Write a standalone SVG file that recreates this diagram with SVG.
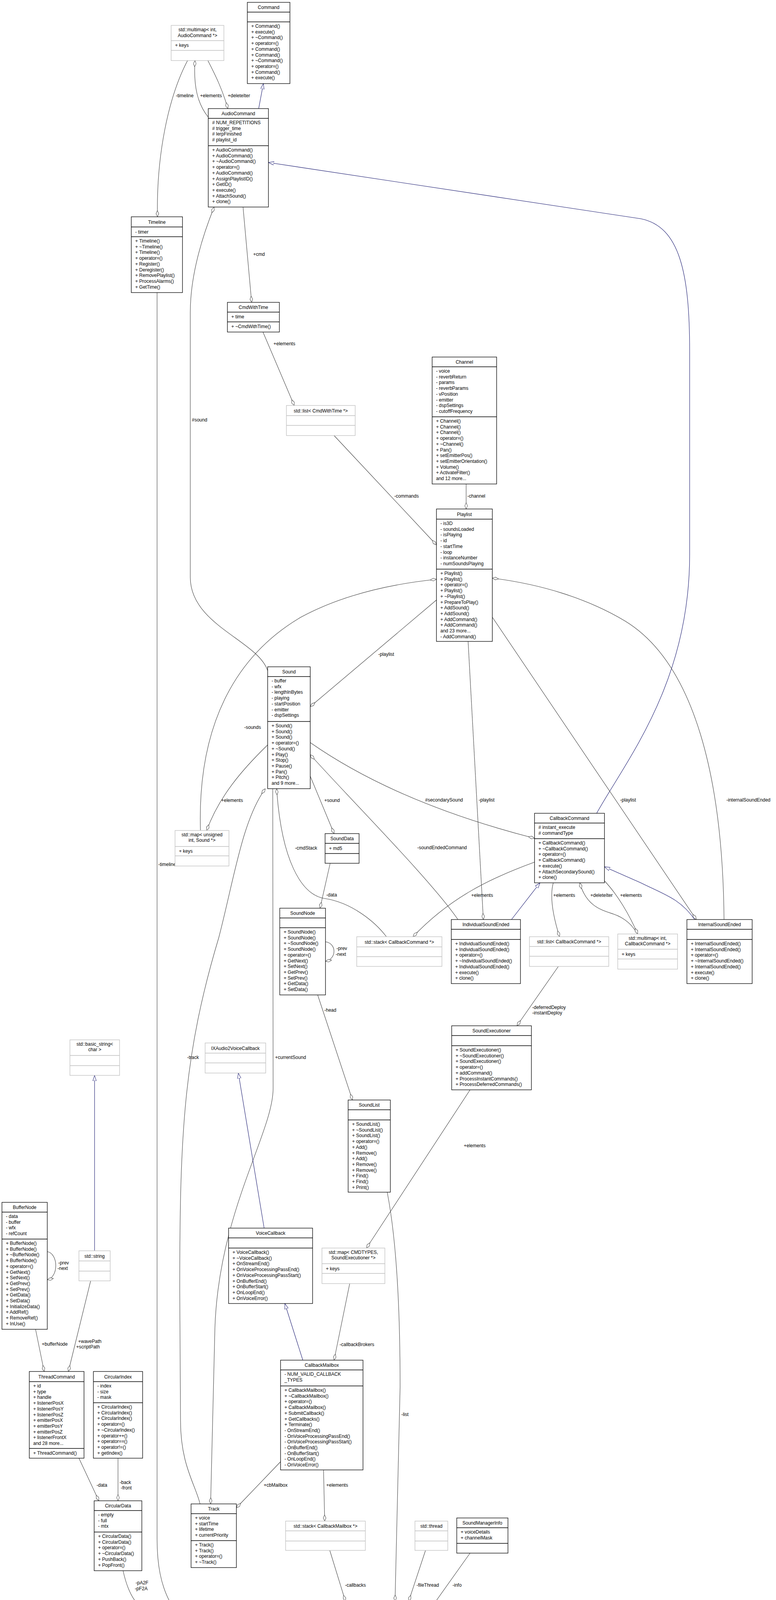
<svg xmlns="http://www.w3.org/2000/svg" width="1986" height="4563" viewBox="0 0 1986 4563">
<style>
text{font-family:"Liberation Sans",Arial,sans-serif;font-size:12px;fill:#000}
.t{text-anchor:middle}
.b{fill:#fff;stroke:#000;stroke-width:1.3}
.g{fill:#fff;stroke:#bfbfbf;stroke-width:1.3}
.m{fill:#bfbfbf;stroke:#000;stroke-width:1.3}
.sb{stroke:#000;stroke-width:1.3}
.sg{stroke:#bfbfbf;stroke-width:1.3}
.e{fill:none;stroke:#404040;stroke-width:1.1;marker-start:url(#dia)}
.i{fill:none;stroke:#191970;stroke-width:1.1;marker-end:url(#tri)}
</style>
<defs>
<marker id="dia" viewBox="0 0 16 8" refX="16" refY="4" markerWidth="16" markerHeight="8" markerUnits="userSpaceOnUse" orient="auto-start-reverse"><path d="M0,4 L8,0.5 L16,4 L8,7.5 Z" fill="#fff" stroke="#404040" stroke-width="1"/></marker>
<marker id="tri" viewBox="0 0 14 10" refX="14" refY="5" markerWidth="14" markerHeight="10" markerUnits="userSpaceOnUse" orient="auto"><path d="M0,0.5 L14,5 L0,9.5 Z" fill="#fff" stroke="#191970" stroke-width="1"/></marker>
</defs>
<rect width="1986" height="4563" fill="#fff"/>
<g id="connectors">
<path class="e" d="M403,555 C400,400 430,250 480,155"/>
<path class="e" d="M499,155 C495,220 505,265 533,300"/>
<path class="e" d="M583,278 C570,230 550,190 532,155"/>
<path class="i" d="M662,278 L674,214"/>
<path class="e" d="M644,774 L622,530"/>
<path class="e" d="M753,1038 L673,850"/>
<path class="e" d="M1117,1395 L855,1115"/>
<path class="e" d="M1193,1303 L1193,1239"/>
<path class="e" d="M548,530 C520,600 487,700 487,800 L487,1478 C487,1600 660,1640 685,1717"/>
<path class="i" d="M1527,2082 C1600,1950 1765,1750 1765,1420 L1765,900 C1765,700 1740,580 1640,560 L687,416"/>
<path class="e" d="M1117,1483 C1050,1490 900,1510 770,1580 C600,1680 505,1860 513,2126"/>
<path class="e" d="M794,1809 L1117,1536"/>
<path class="e" d="M1260,1480 C1380,1495 1500,1530 1600,1590 C1780,1700 1850,2000 1853,2354"/>
<path class="e" d="M1237,2354 L1198,1642"/>
<path class="e" d="M1782,2354 L1260,1580"/>
<path class="e" d="M1368,2146 C1150,2090 950,2010 794,1901"/>
<path class="e" d="M794,1932 C900,2050 1100,2250 1172,2354"/>
<path class="e" d="M855,2134 L794,1987"/>
<path class="e" d="M529,2126 C560,2040 620,1970 685,1907"/>
<path class="e" d="M708,2019 C720,2200 770,2290 830,2300 C900,2310 960,2360 989,2398"/>
<path class="e" d="M679,2019 C620,2100 599,2250 560,2400 C470,2700 460,2900 460,3300 L462,3637 C462,3750 500,3800 512,3850"/>
<path class="e" d="M539,3850 L550,3400 C560,3100 699,2900 699,2786 L698,2019"/>
<path class="e" d="M819,2325 L845,2210"/>
<path class="e" d="M1057,2398 C1150,2300 1250,2250 1368,2207"/>
<path class="e" d="M833,2461 C862,2455 862,2415 833,2411"/>
<path class="e" d="M902,2816 L813,2547"/>
<path class="i" d="M1309,2354 L1382,2260"/>
<path class="e" d="M1432,2398 C1420,2360 1405,2300 1416,2260"/>
<path class="e" d="M1484,2260 C1500,2320 1540,2330 1570,2340 C1600,2350 1620,2370 1631,2391"/>
<path class="e" d="M1632,2391 C1610,2340 1580,2290 1547,2255"/>
<path class="i" d="M1778,2354 C1740,2300 1700,2290 1640,2260 L1547,2219"/>
<path class="e" d="M1323,2626 L1429,2474"/>
<path class="e" d="M938,3195 L1203,2790"/>
<path class="e" d="M855,3482 L895,3286"/>
<path class="i" d="M676,3144 L610,2747"/>
<path class="i" d="M775,3482 L729,3337"/>
<path class="e" d="M1011,4099 L1024,3550 C1024,3300 1010,3150 991,3052"/>
<path class="i" d="M242,3202 L242,2753"/>
<path class="e" d="M121,3276 C150,3270 150,3210 121,3204"/>
<path class="e" d="M113,3511 L91,3403"/>
<path class="e" d="M175,3511 L232,3279"/>
<path class="e" d="M253,3842 L202,3733"/>
<path class="e" d="M302,3842 L302,3733"/>
<path class="e" d="M871,4311 C750,4290 550,4250 400,4150 C350,4110 330,4090 315,4021"/>
<path class="e" d="M871,4303 C700,4260 500,4200 440,4110 C410,4060 402,4000 402,3940 L402,749"/>
<path class="e" d="M605,3860 L718,3742"/>
<path class="e" d="M831,3894 L828,3763"/>
<path class="e" d="M884,4099 L844,3969"/>
<path class="e" d="M1046,4099 L1089,3969"/>
<path class="e" d="M1053,4187 L1203,3976"/>
<path class="e" d="M1053,4368 C1082,4360 1082,4290 1053,4282"/>
</g>
<g id="labels">
<text x="450" y="249">-timeline</text><text x="512" y="249">+elements</text><text x="583" y="249">+deleteIter</text>
<text x="648" y="655">+cmd</text><text x="700" y="884">+elements</text><text x="1009" y="1274">-commands</text>
<text x="1196" y="1274">-channel</text><text x="491" y="1079">#sound</text><text x="968" y="1679">-playlist</text>
<text x="625" y="1866">-sounds</text><text x="566" y="2053">+elements</text><text x="830" y="2053">+sound</text>
<text x="1088" y="2052">#secondarySound</text><text x="1225" y="2052">-playlist</text><text x="1587" y="2052">-playlist</text>
<text x="1859" y="2052">-internalSoundEnded</text><text x="755" y="2175">-cmdStack</text><text x="1068" y="2174">-soundEndedCommand</text>
<text x="1206" y="2296">+elements</text><text x="1416" y="2296">+elements</text><text x="1511" y="2296">+deleteIter</text><text x="1587" y="2296">+elements</text>
<text x="835" y="2295">-data</text><text x="861" y="2432">-prev</text><text x="859" y="2447">-next</text><text x="830" y="2590">-head</text>
<text x="479" y="2711">-track</text><text x="704" y="2711">+currentSound</text>
<text x="1362" y="2583">-deferredDeploy</text><text x="1362" y="2597">-instantDeploy</text>
<text x="1187" y="2937">+elements</text><text x="869" y="3446">-callbackBrokers</text><text x="1027" y="3625">-list</text>
<text x="405" y="2217">-timeline</text>
<text x="149" y="3237">-prev</text><text x="147" y="3251">-next</text><text x="107" y="3445">+bufferNode</text>
<text x="200" y="3438">+wavePath</text><text x="195" y="3452">+scriptPath</text><text x="247" y="3806">-data</text>
<text x="306" y="3799">-back</text><text x="309" y="3813">-front</text><text x="347" y="4056">-pA2F</text><text x="345" y="4071">-pF2A</text>
<text x="675" y="3806">+cbMailbox</text><text x="835" y="3806">+elements</text><text x="883" y="4062">-callbacks</text>
<text x="1066" y="4062">-fileThread</text><text x="1158" y="4062">-info</text><text x="1081" y="4330">-instance</text>
</g>
<g id="Command"><rect class="b" x="633" y="6" width="109" height="208"/><path class="sb" d="M633,31H742M633,56H742"/><text class="t" x="687.5" y="23">Command</text>
<text x="643" y="71"><tspan x="643">+ Command()</tspan><tspan x="643" dy="14.7">+ execute()</tspan><tspan x="643" dy="14.7">+ ~Command()</tspan><tspan x="643" dy="14.7">+ operator=()</tspan><tspan x="643" dy="14.7">+ Command()</tspan><tspan x="643" dy="14.7">+ Command()</tspan><tspan x="643" dy="14.7">+ ~Command()</tspan><tspan x="643" dy="14.7">+ operator=()</tspan><tspan x="643" dy="14.7">+ Command()</tspan><tspan x="643" dy="14.7">+ execute()</tspan></text></g>
<g id="MultimapAudioCommand"><rect class="g" x="438" y="65" width="135" height="90"/><path class="sg" d="M438,104H573M438,129H573"/><text class="t" x="505.5" y="80">std::multimap&lt; int,</text><text class="t" x="505.5" y="95">AudioCommand *&gt;</text><text x="448" y="120">+ keys</text></g>
<g id="AudioCommand"><rect class="b" x="533" y="278" width="154" height="252"/><path class="sb" d="M533,303H687M533,373H687"/><text class="t" x="610" y="295">AudioCommand</text>
<text x="543" y="318"><tspan x="543"># NUM_REPETITIONS</tspan><tspan x="543" dy="14.7"># trigger_time</tspan><tspan x="543" dy="14.7"># lerpFinished</tspan><tspan x="543" dy="14.7"># playlist_id</tspan></text>
<text x="543" y="388"><tspan x="543">+ AudioCommand()</tspan><tspan x="543" dy="14.7">+ AudioCommand()</tspan><tspan x="543" dy="14.7">+ ~AudioCommand()</tspan><tspan x="543" dy="14.7">+ operator=()</tspan><tspan x="543" dy="14.7">+ AudioCommand()</tspan><tspan x="543" dy="14.7">+ AssignPlaylistID()</tspan><tspan x="543" dy="14.7">+ GetID()</tspan><tspan x="543" dy="14.7">+ execute()</tspan><tspan x="543" dy="14.7">+ AttachSound()</tspan><tspan x="543" dy="14.7">+ clone()</tspan></text></g>
<g id="Timeline"><rect class="b" x="336" y="555" width="131" height="194"/><path class="sb" d="M336,581H467M336,606H467"/><text class="t" x="401.5" y="573">Timeline</text><text x="346" y="598">- timer</text>
<text x="346" y="621"><tspan x="346">+ Timeline()</tspan><tspan x="346" dy="14.7">+ ~Timeline()</tspan><tspan x="346" dy="14.7">+ Timeline()</tspan><tspan x="346" dy="14.7">+ operator=()</tspan><tspan x="346" dy="14.7">+ Register()</tspan><tspan x="346" dy="14.7">+ Deregister()</tspan><tspan x="346" dy="14.7">+ RemovePlaylist()</tspan><tspan x="346" dy="14.7">+ ProcessAlarms()</tspan><tspan x="346" dy="14.7">+ GetTime()</tspan></text></g>
<g id="CmdWithTime"><rect class="b" x="582" y="774" width="133" height="76"/><path class="sb" d="M582,799H715M582,824H715"/><text class="t" x="648.5" y="791">CmdWithTime</text><text x="592" y="815">+ time</text><text x="592" y="840">+ ~CmdWithTime()</text></g>
<g id="ListCmdWithTime"><rect class="g" x="733" y="1038" width="176" height="77"/><path class="sg" d="M733,1064H909M733,1089H909"/><text class="t" x="821" y="1056">std::list&lt; CmdWithTime *&gt;</text></g>
<g id="Channel"><rect class="b" x="1106" y="914" width="165" height="325"/><path class="sb" d="M1106,939H1271M1106,1067H1271"/><text class="t" x="1188.5" y="931">Channel</text>
<text x="1116" y="954"><tspan x="1116">- voice</tspan><tspan x="1116" dy="14.7">- reverbReturn</tspan><tspan x="1116" dy="14.7">- params</tspan><tspan x="1116" dy="14.7">- reverbParams</tspan><tspan x="1116" dy="14.7">- vPosition</tspan><tspan x="1116" dy="14.7">- emitter</tspan><tspan x="1116" dy="14.7">- dspSettings</tspan><tspan x="1116" dy="14.7">- cutoffFrequency</tspan></text>
<text x="1116" y="1082"><tspan x="1116">+ Channel()</tspan><tspan x="1116" dy="14.7">+ Channel()</tspan><tspan x="1116" dy="14.7">+ Channel()</tspan><tspan x="1116" dy="14.7">+ operator=()</tspan><tspan x="1116" dy="14.7">+ ~Channel()</tspan><tspan x="1116" dy="14.7">+ Pan()</tspan><tspan x="1116" dy="14.7">+ setEmitterPos()</tspan><tspan x="1116" dy="14.7">+ setEmitterOrientation()</tspan><tspan x="1116" dy="14.7">+ Volume()</tspan><tspan x="1116" dy="14.7">+ ActivateFilter()</tspan><tspan x="1116" dy="14.7">and 12 more...</tspan></text></g>
<g id="Playlist"><rect class="b" x="1117" y="1303" width="143" height="339"/><path class="sb" d="M1117,1329H1260M1117,1457H1260"/><text class="t" x="1188.5" y="1321">Playlist</text>
<text x="1127" y="1344"><tspan x="1127">- is3D</tspan><tspan x="1127" dy="14.7">- soundsLoaded</tspan><tspan x="1127" dy="14.7">- isPlaying</tspan><tspan x="1127" dy="14.7">- id</tspan><tspan x="1127" dy="14.7">- startTime</tspan><tspan x="1127" dy="14.7">- loop</tspan><tspan x="1127" dy="14.7">- instanceNumber</tspan><tspan x="1127" dy="14.7">- numSoundsPlaying</tspan></text>
<text x="1127" y="1472"><tspan x="1127">+ Playlist()</tspan><tspan x="1127" dy="14.7">+ Playlist()</tspan><tspan x="1127" dy="14.7">+ operator=()</tspan><tspan x="1127" dy="14.7">+ Playlist()</tspan><tspan x="1127" dy="14.7">+ ~Playlist()</tspan><tspan x="1127" dy="14.7">+ PrepareToPlay()</tspan><tspan x="1127" dy="14.7">+ AddSound()</tspan><tspan x="1127" dy="14.7">+ AddSound()</tspan><tspan x="1127" dy="14.7">+ AddCommand()</tspan><tspan x="1127" dy="14.7">+ AddCommand()</tspan><tspan x="1127" dy="14.7">and 23 more...</tspan><tspan x="1127" dy="14.7">- AddCommand()</tspan></text></g>
<g id="Sound"><rect class="b" x="685" y="1707" width="109" height="312"/><path class="sb" d="M685,1732H794M685,1847H794"/><text class="t" x="739.5" y="1724">Sound</text>
<text x="695" y="1747"><tspan x="695">- buffer</tspan><tspan x="695" dy="14.7">- wfx</tspan><tspan x="695" dy="14.7">- lengthInBytes</tspan><tspan x="695" dy="14.7">- playing</tspan><tspan x="695" dy="14.7">- startPosition</tspan><tspan x="695" dy="14.7">- emitter</tspan><tspan x="695" dy="14.7">- dspSettings</tspan></text>
<text x="695" y="1862"><tspan x="695">+ Sound()</tspan><tspan x="695" dy="14.7">+ Sound()</tspan><tspan x="695" dy="14.7">+ Sound()</tspan><tspan x="695" dy="14.7">+ operator=()</tspan><tspan x="695" dy="14.7">+ ~Sound()</tspan><tspan x="695" dy="14.7">+ Play()</tspan><tspan x="695" dy="14.7">+ Stop()</tspan><tspan x="695" dy="14.7">+ Pause()</tspan><tspan x="695" dy="14.7">+ Pan()</tspan><tspan x="695" dy="14.7">+ Pitch()</tspan><tspan x="695" dy="14.7">and 9 more...</tspan></text></g>
<g id="MapSound"><rect class="g" x="448" y="2126" width="138" height="91"/><path class="sg" d="M448,2167H586M448,2191H586"/><text class="t" x="517" y="2141">std::map&lt; unsigned</text><text class="t" x="517" y="2155">int, Sound *&gt;</text><text x="458" y="2183">+ keys</text></g>
<g id="SoundData"><rect class="b" x="832" y="2134" width="87" height="76"/><path class="sb" d="M832,2159H919M832,2185H919"/><text class="t" x="875.5" y="2151">SoundData</text><text x="842" y="2176">+ md5</text></g>
<g id="CallbackCommand"><rect class="b" x="1368" y="2082" width="179" height="178"/><path class="sb" d="M1368,2107H1547M1368,2147H1547"/><text class="t" x="1457.5" y="2099">CallbackCommand</text>
<text x="1378" y="2122"><tspan x="1378"># instant_execute</tspan><tspan x="1378" dy="14.7"># commandType</tspan></text>
<text x="1378" y="2162"><tspan x="1378">+ CallbackCommand()</tspan><tspan x="1378" dy="14.7">+ ~CallbackCommand()</tspan><tspan x="1378" dy="14.7">+ operator=()</tspan><tspan x="1378" dy="14.7">+ CallbackCommand()</tspan><tspan x="1378" dy="14.7">+ execute()</tspan><tspan x="1378" dy="14.7">+ AttachSecondarySound()</tspan><tspan x="1378" dy="14.7">+ clone()</tspan></text></g>
<g id="IndividualSoundEnded"><rect class="b" x="1155" y="2354" width="177" height="164"/><path class="sb" d="M1155,2379H1332M1155,2405H1332"/><text class="t" x="1243.5" y="2371">IndividualSoundEnded</text>
<text x="1165" y="2420"><tspan x="1165">+ IndividualSoundEnded()</tspan><tspan x="1165" dy="14.7">+ IndividualSoundEnded()</tspan><tspan x="1165" dy="14.7">+ operator=()</tspan><tspan x="1165" dy="14.7">+ ~IndividualSoundEnded()</tspan><tspan x="1165" dy="14.7">+ IndividualSoundEnded()</tspan><tspan x="1165" dy="14.7">+ execute()</tspan><tspan x="1165" dy="14.7">+ clone()</tspan></text></g>
<g id="ListCallbackCommand"><rect class="g" x="1355" y="2398" width="203" height="76"/><path class="sg" d="M1355,2423H1558M1355,2448H1558"/><text class="t" x="1456.5" y="2415">std::list&lt; CallbackCommand *&gt;</text></g>
<g id="MultimapCallbackCommand"><rect class="g" x="1581" y="2391" width="153" height="90"/><path class="sg" d="M1581,2430H1734M1581,2455H1734"/><text class="t" x="1657.5" y="2406">std::multimap&lt; int,</text><text class="t" x="1657.5" y="2420">CallbackCommand *&gt;</text><text x="1591" y="2447">+ keys</text></g>
<g id="InternalSoundEnded"><rect class="b" x="1758" y="2354" width="167" height="164"/><path class="sb" d="M1758,2379H1925M1758,2405H1925"/><text class="t" x="1841.5" y="2371">InternalSoundEnded</text>
<text x="1768" y="2420"><tspan x="1768">+ InternalSoundEnded()</tspan><tspan x="1768" dy="14.7">+ InternalSoundEnded()</tspan><tspan x="1768" dy="14.7">+ operator=()</tspan><tspan x="1768" dy="14.7">+ ~InternalSoundEnded()</tspan><tspan x="1768" dy="14.7">+ InternalSoundEnded()</tspan><tspan x="1768" dy="14.7">+ execute()</tspan><tspan x="1768" dy="14.7">+ clone()</tspan></text></g>
<g id="StackCallbackCommand"><rect class="g" x="913" y="2398" width="218" height="76"/><path class="sg" d="M913,2424H1131M913,2449H1131"/><text class="t" x="1022" y="2416">std::stack&lt; CallbackCommand *&gt;</text></g>
<g id="SoundNode"><rect class="b" x="716" y="2325" width="117" height="222"/><path class="sb" d="M716,2350H833M716,2375H833"/><text class="t" x="774.5" y="2342">SoundNode</text>
<text x="726" y="2390"><tspan x="726">+ SoundNode()</tspan><tspan x="726" dy="14.7">+ SoundNode()</tspan><tspan x="726" dy="14.7">+ ~SoundNode()</tspan><tspan x="726" dy="14.7">+ SoundNode()</tspan><tspan x="726" dy="14.7">+ operator=()</tspan><tspan x="726" dy="14.7">+ GetNext()</tspan><tspan x="726" dy="14.7">+ SetNext()</tspan><tspan x="726" dy="14.7">+ GetPrev()</tspan><tspan x="726" dy="14.7">+ SetPrev()</tspan><tspan x="726" dy="14.7">+ GetData()</tspan><tspan x="726" dy="14.7">+ SetData()</tspan></text></g>
<g id="SoundExecutioner"><rect class="b" x="1156" y="2626" width="204" height="164"/><path class="sb" d="M1156,2651H1360M1156,2677H1360"/><text class="t" x="1258" y="2643">SoundExecutioner</text>
<text x="1166" y="2692"><tspan x="1166">+ SoundExecutioner()</tspan><tspan x="1166" dy="14.7">+ ~SoundExecutioner()</tspan><tspan x="1166" dy="14.7">+ SoundExecutioner()</tspan><tspan x="1166" dy="14.7">+ operator=()</tspan><tspan x="1166" dy="14.7">+ addCommand()</tspan><tspan x="1166" dy="14.7">+ ProcessInstantCommands()</tspan><tspan x="1166" dy="14.7">+ ProcessDeferredCommands()</tspan></text></g>
<g id="IXAudio2VoiceCallback"><rect class="g" x="525" y="2670" width="155" height="77"/><path class="sg" d="M525,2696H680M525,2721H680"/><text class="t" x="602.5" y="2688">IXAudio2VoiceCallback</text></g>
<g id="BasicString"><rect class="g" x="179" y="2662" width="127" height="91"/><path class="sg" d="M179,2702H306M179,2728H306"/><text class="t" x="242.5" y="2677">std::basic_string&lt;</text><text class="t" x="242.5" y="2691">char &gt;</text></g>
<g id="SoundList"><rect class="b" x="891" y="2816" width="108" height="236"/><path class="sb" d="M891,2841H999M891,2867H999"/><text class="t" x="945" y="2833">SoundList</text>
<text x="901" y="2882"><tspan x="901">+ SoundList()</tspan><tspan x="901" dy="14.7">+ ~SoundList()</tspan><tspan x="901" dy="14.7">+ SoundList()</tspan><tspan x="901" dy="14.7">+ operator=()</tspan><tspan x="901" dy="14.7">+ Add()</tspan><tspan x="901" dy="14.7">+ Remove()</tspan><tspan x="901" dy="14.7">+ Add()</tspan><tspan x="901" dy="14.7">+ Remove()</tspan><tspan x="901" dy="14.7">+ Remove()</tspan><tspan x="901" dy="14.7">+ Find()</tspan><tspan x="901" dy="14.7">+ Find()</tspan><tspan x="901" dy="14.7">+ Print()</tspan></text></g>
<g id="BufferNode"><rect class="b" x="5" y="3078" width="116" height="325"/><path class="sb" d="M5,3103H121M5,3172H121"/><text class="t" x="63" y="3095">BufferNode</text>
<text x="15" y="3118"><tspan x="15">- data</tspan><tspan x="15" dy="14.7">- buffer</tspan><tspan x="15" dy="14.7">- wfx</tspan><tspan x="15" dy="14.7">- refCount</tspan></text>
<text x="15" y="3187"><tspan x="15">+ BufferNode()</tspan><tspan x="15" dy="14.7">+ BufferNode()</tspan><tspan x="15" dy="14.7">+ ~BufferNode()</tspan><tspan x="15" dy="14.7">+ BufferNode()</tspan><tspan x="15" dy="14.7">+ operator=()</tspan><tspan x="15" dy="14.7">+ GetNext()</tspan><tspan x="15" dy="14.7">+ SetNext()</tspan><tspan x="15" dy="14.7">+ GetPrev()</tspan><tspan x="15" dy="14.7">+ SetPrev()</tspan><tspan x="15" dy="14.7">+ GetData()</tspan><tspan x="15" dy="14.7">+ SetData()</tspan><tspan x="15" dy="14.7">+ InitializeData()</tspan><tspan x="15" dy="14.7">+ AddRef()</tspan><tspan x="15" dy="14.7">+ RemoveRef()</tspan><tspan x="15" dy="14.7">+ InUse()</tspan></text></g>
<g id="StdString"><rect class="g" x="202" y="3202" width="80" height="77"/><path class="sg" d="M202,3228H282M202,3254H282"/><text class="t" x="242" y="3220">std::string</text></g>
<g id="VoiceCallback"><rect class="b" x="585" y="3144" width="215" height="193"/><path class="sb" d="M585,3169H800M585,3195H800"/><text class="t" x="692.5" y="3161">VoiceCallback</text>
<text x="595" y="3210"><tspan x="595">+ VoiceCallback()</tspan><tspan x="595" dy="14.7">+ ~VoiceCallback()</tspan><tspan x="595" dy="14.7">+ OnStreamEnd()</tspan><tspan x="595" dy="14.7">+ OnVoiceProcessingPassEnd()</tspan><tspan x="595" dy="14.7">+ OnVoiceProcessingPassStart()</tspan><tspan x="595" dy="14.7">+ OnBufferEnd()</tspan><tspan x="595" dy="14.7">+ OnBufferStart()</tspan><tspan x="595" dy="14.7">+ OnLoopEnd()</tspan><tspan x="595" dy="14.7">+ OnVoiceError()</tspan></text></g>
<g id="MapCmdTypes"><rect class="g" x="824" y="3195" width="161" height="91"/><path class="sg" d="M824,3235H985M824,3260H985"/><text class="t" x="904.5" y="3210">std::map&lt; CMDTYPES,</text><text class="t" x="904.5" y="3224">SoundExecutioner *&gt;</text><text x="834" y="3252">+ keys</text></g>
<g id="CallbackMailbox"><rect class="b" x="718" y="3482" width="211" height="281"/><path class="sb" d="M718,3507H929M718,3548H929"/><text class="t" x="823.5" y="3499">CallbackMailbox</text>
<text x="728" y="3522"><tspan x="728">- NUM_VALID_CALLBACK</tspan><tspan x="728" dy="14.7">_TYPES</tspan></text>
<text x="728" y="3563"><tspan x="728">+ CallbackMailbox()</tspan><tspan x="728" dy="14.7">+ ~CallbackMailbox()</tspan><tspan x="728" dy="14.7">+ operator=()</tspan><tspan x="728" dy="14.7">+ CallbackMailbox()</tspan><tspan x="728" dy="14.7">+ SubmitCallback()</tspan><tspan x="728" dy="14.7">+ GetCallbacks()</tspan><tspan x="728" dy="14.7">+ Terminate()</tspan><tspan x="728" dy="14.7">- OnStreamEnd()</tspan><tspan x="728" dy="14.7">- OnVoiceProcessingPassEnd()</tspan><tspan x="728" dy="14.7">- OnVoiceProcessingPassStart()</tspan><tspan x="728" dy="14.7">- OnBufferEnd()</tspan><tspan x="728" dy="14.7">- OnBufferStart()</tspan><tspan x="728" dy="14.7">- OnLoopEnd()</tspan><tspan x="728" dy="14.7">- OnVoiceError()</tspan></text></g>
<g id="ThreadCommand"><rect class="b" x="75" y="3511" width="140" height="222"/><path class="sb" d="M75,3537H215M75,3708H215"/><text class="t" x="145" y="3529">ThreadCommand</text>
<text x="85" y="3552"><tspan x="85">+ id</tspan><tspan x="85" dy="14.7">+ type</tspan><tspan x="85" dy="14.7">+ handle</tspan><tspan x="85" dy="14.7">+ listenerPosX</tspan><tspan x="85" dy="14.7">+ listenerPosY</tspan><tspan x="85" dy="14.7">+ listenerPosZ</tspan><tspan x="85" dy="14.7">+ emitterPosX</tspan><tspan x="85" dy="14.7">+ emitterPosY</tspan><tspan x="85" dy="14.7">+ emitterPosZ</tspan><tspan x="85" dy="14.7">+ listenerFrontX</tspan><tspan x="85" dy="14.7">and 28 more...</tspan></text>
<text x="85" y="3724">+ ThreadCommand()</text></g>
<g id="CircularIndex"><rect class="b" x="239" y="3511" width="126" height="222"/><path class="sb" d="M239,3537H365M239,3591H365"/><text class="t" x="302" y="3529">CircularIndex</text>
<text x="249" y="3552"><tspan x="249">- index</tspan><tspan x="249" dy="14.7">- size</tspan><tspan x="249" dy="14.7">- mask</tspan></text>
<text x="249" y="3606"><tspan x="249">+ CircularIndex()</tspan><tspan x="249" dy="14.7">+ CircularIndex()</tspan><tspan x="249" dy="14.7">+ CircularIndex()</tspan><tspan x="249" dy="14.7">+ operator=()</tspan><tspan x="249" dy="14.7">+ ~CircularIndex()</tspan><tspan x="249" dy="14.7">+ operator++()</tspan><tspan x="249" dy="14.7">+ operator==()</tspan><tspan x="249" dy="14.7">+ operator!=()</tspan><tspan x="249" dy="14.7">+ getIndex()</tspan></text></g>
<g id="CircularData"><rect class="b" x="241" y="3842" width="122" height="179"/><path class="sb" d="M241,3867H363M241,3922H363"/><text class="t" x="302" y="3859">CircularData</text>
<text x="251" y="3882"><tspan x="251">- empty</tspan><tspan x="251" dy="14.7">- full</tspan><tspan x="251" dy="14.7">- mtx</tspan></text>
<text x="251" y="3937"><tspan x="251">+ CircularData()</tspan><tspan x="251" dy="14.7">+ CircularData()</tspan><tspan x="251" dy="14.7">+ operator=()</tspan><tspan x="251" dy="14.7">+ ~CircularData()</tspan><tspan x="251" dy="14.7">+ PushBack()</tspan><tspan x="251" dy="14.7">+ PopFront()</tspan></text></g>
<g id="Track"><rect class="b" x="489" y="3850" width="116" height="163"/><path class="sb" d="M489,3875H605M489,3944H605"/><text class="t" x="547" y="3867">Track</text>
<text x="499" y="3890"><tspan x="499">+ voice</tspan><tspan x="499" dy="14.7">+ startTime</tspan><tspan x="499" dy="14.7">+ lifetime</tspan><tspan x="499" dy="14.7">+ currentPriority</tspan></text>
<text x="499" y="3959"><tspan x="499">+ Track()</tspan><tspan x="499" dy="14.7">+ Track()</tspan><tspan x="499" dy="14.7">+ operator=()</tspan><tspan x="499" dy="14.7">+ ~Track()</tspan></text></g>
<g id="StackCallbackMailbox"><rect class="g" x="731" y="3894" width="204" height="75"/><path class="sg" d="M731,3919H935M731,3945H935"/><text class="t" x="833" y="3911">std::stack&lt; CallbackMailbox *&gt;</text></g>
<g id="StdThread"><rect class="g" x="1062" y="3894" width="84" height="75"/><path class="sg" d="M1062,3919H1146M1062,3945H1146"/><text class="t" x="1104" y="3911">std::thread</text></g>
<g id="SoundManagerInfo"><rect class="b" x="1169" y="3886" width="131" height="90"/><path class="sb" d="M1169,3911H1300M1169,3951H1300"/><text class="t" x="1234.5" y="3903">SoundManagerInfo</text>
<text x="1179" y="3926"><tspan x="1179">+ voiceDetails</tspan><tspan x="1179" dy="14.7">+ channelMask</tspan></text></g>
<g id="SoundManager"><rect class="m" x="871" y="4099" width="182" height="456"/><path class="sb" d="M871,4124H1053M871,4193H1053"/><text class="t" x="962" y="4116">SoundManager</text>
<text x="881" y="4139"><tspan x="881">- masteringVoice</tspan><tspan x="881" dy="14.7">- xAudio2</tspan><tspan x="881" dy="14.7">- endAudioThread</tspan><tspan x="881" dy="14.7">- assetPath</tspan></text>
<text x="881" y="4208"><tspan x="881">+ SendDataA2F()</tspan><tspan x="881" dy="14.7">+ SendDataF2A()</tspan><tspan x="881" dy="14.7">+ PanSound()</tspan><tspan x="881" dy="14.7">+ PassCallback()</tspan><tspan x="881" dy="14.7">+ EndAudioThread()</tspan><tspan x="881" dy="14.7">+ AudioThreadEnded()</tspan><tspan x="881" dy="14.7">+ CancelPlaylist()</tspan><tspan x="881" dy="14.7">+ Update()</tspan><tspan x="881" dy="14.7">+ GetInfo()</tspan><tspan x="881" dy="14.7">+ InsertTimelineCommand()</tspan><tspan x="881" dy="14.7">and 12 more...</tspan><tspan x="881" dy="14.7">- SoundManager()</tspan><tspan x="881" dy="14.7">- SoundManager()</tspan><tspan x="881" dy="14.7">- operator=()</tspan><tspan x="881" dy="14.7">- ~SoundManager()</tspan><tspan x="881" dy="14.7">- GetXAudio2()</tspan><tspan x="881" dy="14.7">- privRemove()</tspan><tspan x="881" dy="14.7">- privCreateVoice()</tspan><tspan x="881" dy="14.7">- privLoadSound()</tspan><tspan x="881" dy="14.7">- privLoadSound()</tspan><tspan x="881" dy="14.7">- privPanSound()</tspan><tspan x="881" dy="14.7">and 16 more...</tspan><tspan x="881" dy="14.7">- Instance()</tspan><tspan x="881" dy="14.7">- Remove()</tspan></text></g>
</svg>
